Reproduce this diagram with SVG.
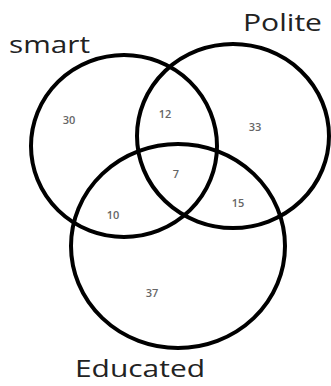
<svg xmlns="http://www.w3.org/2000/svg" width="331" height="386" viewBox="0 0 331 386">
<style>
.c{fill:none;stroke:#000;stroke-width:4}
.lab{font-family:"Open Sans","Liberation Sans",sans-serif;font-size:24px;fill:#222}
.n{font-family:"Open Sans","Liberation Sans",sans-serif;font-size:11px;font-weight:600;fill:#666;text-anchor:middle}
</style>
<rect width="331" height="386" fill="#fff"/>
<g id="smart"><ellipse class="c" cx="124" cy="146" rx="93" ry="91"/><text class="lab" x="9" y="53" textLength="81" lengthAdjust="spacingAndGlyphs">smart</text></g>
<g id="polite"><ellipse class="c" cx="233" cy="136" rx="96" ry="92"/><text class="lab" x="243" y="31" textLength="79" lengthAdjust="spacingAndGlyphs">Polite</text></g>
<g id="educated"><ellipse class="c" cx="178" cy="246" rx="107" ry="102"/><text class="lab" x="75" y="377" textLength="130" lengthAdjust="spacingAndGlyphs">Educated</text></g>
<g id="counts">
<text class="n" x="69" y="124">30</text>
<text class="n" x="165" y="118">12</text>
<text class="n" x="255" y="131">33</text>
<text class="n" x="176" y="178">7</text>
<text class="n" x="238" y="207">15</text>
<text class="n" x="113" y="219">10</text>
<text class="n" x="152" y="297">37</text>
</g>
</svg>
